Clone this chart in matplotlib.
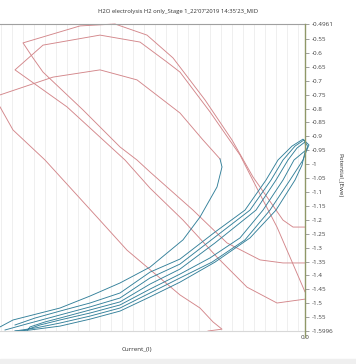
import matplotlib
matplotlib.use("Agg")
import matplotlib.pyplot as plt
from matplotlib.ticker import MultipleLocator, FuncFormatter
from matplotlib.patches import Rectangle

plt.rcParams['font.family'] = ['Open Sans', 'DejaVu Sans']

TITLE = "H2O electrolysis H2 only_Stage 1_22'07'2019 14:35'23_MID"
XLABEL = "Current_(I)"
YLABEL = "Potential_(Ewe)"
Y_MAX = -0.4961
Y_MIN = -1.5996
Y_TICKS = [-0.4961, -0.55, -0.6, -0.65, -0.7, -0.75, -0.8, -0.85, -0.9, -0.95,
           -1.0, -1.05, -1.1, -1.15, -1.2, -1.25, -1.3, -1.35, -1.4, -1.45,
           -1.5, -1.55, -1.5996]
X_TICKS = [0.0]

# ---- red sweeps (current mA, potential V) ----
red1_i = [0.0, -2.2, -4.5, -7.8, -11.2, -15.5, -16.8, -18.5, -22.2, -26.2, -27.2, -28.2,
          -22.5, -19.0, -15.8, -13.2, -12.5, -10.0, -7.3, -5.2, -3.8, -2.2, -1.2, 0.0]
red1_v = [-1.355, -1.355, -1.344, -1.283, -1.165, -1.028, -0.985, -0.938, -0.805, -0.669, -0.618, -0.564,
          -0.503, -0.4961, -0.536, -0.618, -0.651, -0.769, -0.913, -1.046, -1.118, -1.201, -1.226, -1.226]

red2_i = [0.0, -2.8, -5.8, -8.8, -12.2, -15.5, -18.0, -23.8, -29.0, -26.2, -20.5, -16.5,
          -13.8, -12.5, -9.5, -6.5, -4.2, -2.8, -1.5, 0.0]
red2_v = [-1.485, -1.499, -1.442, -1.334, -1.201, -1.086, -0.985, -0.794, -0.661, -0.572, -0.536, -0.561,
          -0.633, -0.669, -0.812, -0.967, -1.129, -1.226, -1.334, -1.459]

red3_i = [-30.5, -25.2, -20.5, -16.8, -12.5, -10.2, -8.5]
red3_v = [-0.751, -0.687, -0.661, -0.697, -0.816, -0.913, -0.981]

red4_i = [-30.5, -29.2, -26.0, -20.8, -17.8, -12.5, -10.5, -9.2, -8.3, -9.7]
red4_v = [-0.794, -0.877, -0.985, -1.190, -1.309, -1.470, -1.517, -1.567, -1.593, -1.5996]

# ---- blue sweeps ----
blue0_i = [-8.5, -8.3, -8.8, -10.5, -12.2, -15.5, -18.5, -21.5, -24.5, -29.2, -30.5]
blue0_v = [-0.981, -1.010, -1.082, -1.190, -1.272, -1.370, -1.427, -1.474, -1.517, -1.560, -1.585]

blue1_i = [-29.0, -27.0, -24.5, -21.5, -18.5, -15.5, -12.5, -9.0, -6.0, -3.9, -2.7, -1.3, -0.2,
           0.4, 0.0, -0.3, -1.0, -2.9, -5.5, -9.0, -12.5, -15.5, -18.5, -21.5, -24.5, -27.5, -29.0]
blue1_v = [-1.578, -1.553, -1.528, -1.499, -1.463, -1.388, -1.341, -1.244, -1.165, -1.057, -0.985, -0.935, -0.910,
           -0.931, -0.956, -1.003, -1.057, -1.165, -1.265, -1.352, -1.424, -1.477, -1.528, -1.557, -1.582, -1.596, -1.5996]

blue2_i = [-30.0, -27.8, -24.5, -21.5, -18.5, -15.5, -12.5, -9.0, -5.5, -3.4, -2.2, -1.0, -0.1,
           0.3, -0.2, -1.5, -3.5, -6.0, -9.3, -12.5, -15.5, -18.5, -21.5, -24.5, -27.0, -29.0]
blue2_v = [-1.596, -1.574, -1.542, -1.513, -1.481, -1.409, -1.359, -1.262, -1.165, -1.057, -0.985, -0.935, -0.913,
           -0.938, -0.985, -1.057, -1.165, -1.272, -1.352, -1.409, -1.463, -1.517, -1.546, -1.571, -1.589, -1.5996]

blue3_i = [-27.8, -27.5, -26.0, -24.5, -21.5, -18.5, -15.5, -12.5, -9.0, -4.9, -2.9, -1.7, -0.8, 0.0,
           0.1, -1.1, -2.2, -4.2, -6.5, -9.5, -12.5, -15.5, -18.5, -21.5, -24.5, -26.5, -28.2]
blue3_v = [-1.5996, -1.585, -1.567, -1.553, -1.524, -1.495, -1.431, -1.377, -1.283, -1.165, -1.057, -0.985, -0.942, -0.920,
           -0.949, -0.985, -1.057, -1.165, -1.265, -1.337, -1.395, -1.449, -1.506, -1.535, -1.560, -1.578, -1.5996]

RED = '#d3868a'
BLUE = '#33809a'

W, H = 356, 364
fig = plt.figure(figsize=(W / 100, H / 100), dpi=100)
fig.patch.set_facecolor('white')
ax = fig.add_axes([0.0, 33 / H, 305 / W, 307 / H])

for xi, yi in [(red1_i, red1_v), (red2_i, red2_v), (red3_i, red3_v), (red4_i, red4_v)]:
    ax.plot(xi, yi, color=RED, lw=0.65, clip_on=False)
for xi, yi in [(blue0_i, blue0_v), (blue1_i, blue1_v), (blue2_i, blue2_v), (blue3_i, blue3_v)]:
    ax.plot(xi, yi, color=BLUE, lw=0.65, clip_on=False)

ax.set_xlim(-30.5, 0.0)
ax.set_ylim(Y_MIN, Y_MAX)

# grid
ax.xaxis.set_minor_locator(MultipleLocator(1.1, offset=-0.7))
ax.grid(which='minor', axis='x', color='#ececec', lw=0.6)
ax.tick_params(axis='x', which='minor', length=0)
ax.set_xticks(X_TICKS)
ax.set_xticklabels(['0.0'])
ax.tick_params(axis='x', which='major', length=2, width=0.6, color='#909090',
               labelsize=4.5, labelcolor='#404040', pad=1)

ax.yaxis.tick_right()
ax.set_yticks(Y_TICKS)
ax.yaxis.set_major_formatter(FuncFormatter(lambda v, p: ('%.4f' % v) if v in (Y_MAX, Y_MIN) else ('%g' % v)))
ax.tick_params(axis='y', which='major', length=3, width=0.6, color='#909090',
               labelsize=4.5, labelcolor='#404040', pad=1.5)

for s in ['left', 'right']:
    ax.spines[s].set_visible(False)
ax.spines['top'].set_color('#a0a0a0')
ax.spines['top'].set_linewidth(0.8)
ax.spines['bottom'].set_color('#d8d8d8')
ax.spines['bottom'].set_linewidth(0.8)
ax.axvline(0, ymin=-0.02, ymax=1.0, color='#8f9868', lw=1.0, clip_on=False, zorder=5)

fig.text(0.5, 1 - 11 / H, TITLE, ha='center', va='center', fontsize=4.2, color='#303030')
fig.text(137 / W, 1 - 349 / H, XLABEL, ha='center', va='center', fontsize=4.5, color='#303030')
fig.text(340 / W, 1 - 175 / H, YLABEL, ha='center', va='center', rotation=270, fontsize=4.5, color='#303030')

fig.patches.append(Rectangle((0, 0), 1, 5 / H, transform=fig.transFigure, color='#efefef', zorder=0))

fig.savefig('out.png', dpi=100, facecolor='white')
